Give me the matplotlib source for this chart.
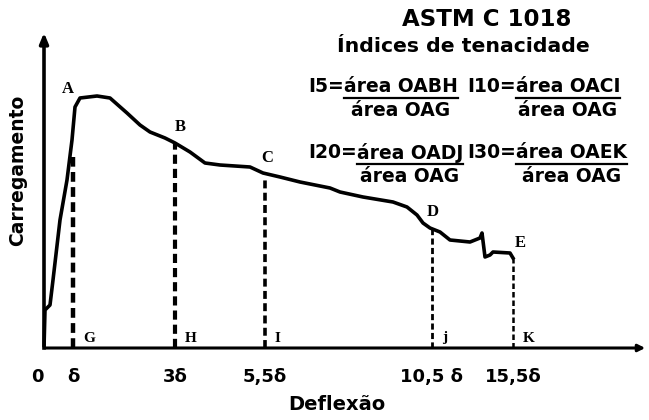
#!/usr/bin/env python3
# -*- coding: utf-8 -*-
"""
ASTM C 1018 - índices de tenacidade (curva carga x deflexão)
"""

import matplotlib
matplotlib.use("Agg")
import matplotlib.pyplot as plt

# curva carga-deflexão (unidades arbitrárias)
deflexao = [0, 1, 6, 9, 16, 23, 28, 31, 36, 53, 66, 83, 96, 106, 121, 131,
            146, 161, 176, 206, 219, 236, 256, 286, 296, 319, 349, 363, 373,
            379, 386, 396, 406, 426, 436, 438, 441, 446, 449, 466, 469]
carga = [0, 38, 43, 68, 128, 168, 208, 241, 250, 252, 250, 235, 223, 216,
         210, 205, 196, 185, 183, 181, 175, 171, 166, 160, 156, 151, 146,
         141, 133, 125, 120, 116, 108, 106, 110, 115, 91, 93, 96, 95, 90]

# linhas tracejadas (G, H, I, J, K) e pontos da curva (A..E)
pos_tracejado = [29, 131, 221, 388, 469]
topo_tracejado = [191, 205, 170, 120, 90]
esp_tracejado = [3.2, 3.0, 2.6, 2.0, 1.8]
rot_base = ["G", "H", "I", "j", "K"]
rot_curva = ["A", "B", "C", "D", "E"]
pos_rot_curva = [(24, 259), (136, 221), (223, 190), (389, 136), (476, 105)]

# eixo x
ticks_pos = [-7, 29, 131, 221, 388, 469]
ticks_txt = ["0", "δ", "3δ", "5,5δ", "10,5 δ", "15,5δ"]

# índices
formulas = [("I5=", "área OABH"), ("I10=", "área OACI"),
            ("I20=", "área OADJ"), ("I30=", "área OAEK")]


def main():
    fig = plt.figure(figsize=(6.49, 4.20), dpi=100)
    ax = fig.add_axes([0, 0, 1, 1])
    ax.set_xlim(-44, 605)
    ax.set_ylim(-72, 348)
    ax.axis("off")

    # eixos com setas
    ax.annotate("", xy=(0, 318), xytext=(0, -1),
                arrowprops=dict(arrowstyle="-|>,head_width=0.25,head_length=0.6",
                                lw=2.6, color="black"))
    ax.annotate("", xy=(604, 0), xytext=(-1, 0),
                arrowprops=dict(arrowstyle="-|>,head_width=0.2,head_length=0.4",
                                lw=2.2, color="black"))

    ax.plot(deflexao, carga, color="black", lw=2.6, solid_joinstyle="round")

    for x, top, lw, rot in zip(pos_tracejado, topo_tracejado, esp_tracejado, rot_base):
        ax.plot([x, x], [0, top], color="black", lw=lw, ls=(0, (2.2, 1.2)))
        ax.text(x + 10, 10, rot, family="Liberation Serif", weight="bold",
                fontsize=11, ha="left", va="center")

    for (x, y), rot in zip(pos_rot_curva, rot_curva):
        ax.text(x, y, rot, family="Liberation Serif", weight="bold",
                fontsize=12, ha="center", va="center")

    for x, t in zip(ticks_pos, ticks_txt):
        ax.text(x, -29, t, weight="bold", fontsize=13, ha="center", va="center")

    ax.text(-26, 178, "Carregamento", rotation=90, weight="bold",
            fontsize=13.5, ha="center", va="center")
    ax.text(293, -57, "Deflexão", weight="bold", fontsize=14,
            ha="center", va="center")

    ax.text(443, 328, "ASTM C 1018", weight="bold", fontsize=16.5,
            ha="center", va="center")
    ax.text(419, 301, "Índices de tenacidade", weight="bold", fontsize=14.7,
            ha="center", va="center")

    # frações dos índices
    cols = [264, 423]
    rows = [261, 195]
    for k, (lhs, num) in enumerate(formulas):
        x0 = cols[k % 2]
        y0 = rows[k // 2]
        t1 = ax.text(x0, y0, lhs, weight="bold", fontsize=13.5,
                     ha="left", va="center")
        fig.canvas.draw()
        bb = t1.get_window_extent().transformed(ax.transData.inverted())
        t2 = ax.text(bb.x1, y0, num, weight="bold", fontsize=13.5,
                     ha="left", va="center")
        fig.canvas.draw()
        bb2 = t2.get_window_extent().transformed(ax.transData.inverted())
        ax.plot([bb2.x0, bb2.x1], [y0 - 11, y0 - 11], color="black", lw=1.6)
        ax.text((bb2.x0 + bb2.x1) / 2, y0 - 24, "área OAG", weight="bold",
                fontsize=13.5, ha="center", va="center")

    fig.savefig("out.png", dpi=100)
    plt.close(fig)


if __name__ == "__main__":
    main()
